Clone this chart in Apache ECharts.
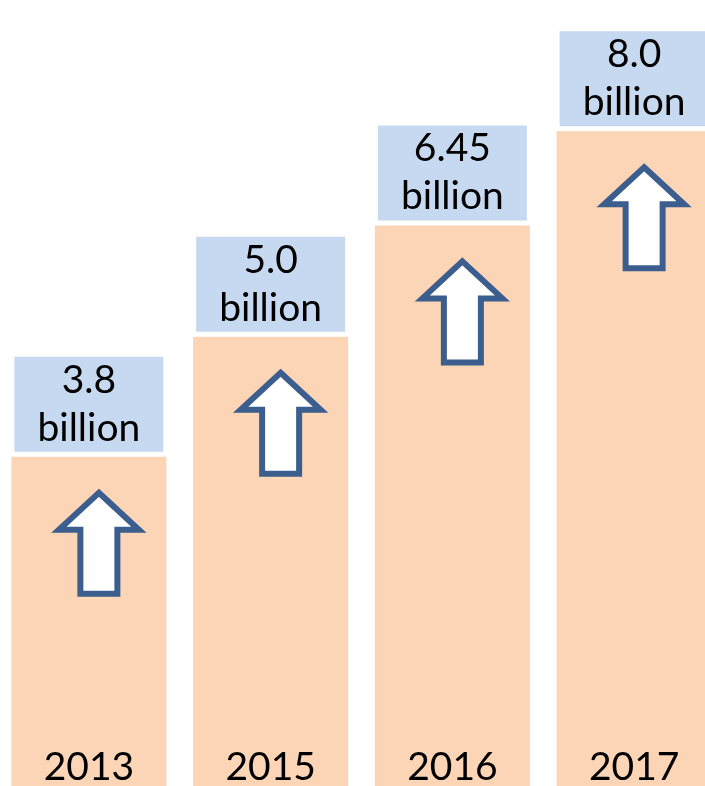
<!DOCTYPE html>
<html>
<head>
<meta charset="utf-8">
<script src="https://cdn.jsdelivr.net/npm/echarts@6/dist/echarts.min.js"></script>
<style>
  html, body { margin: 0; padding: 0; background: #ffffff; }
  #chart { width: 705px; height: 786px; }
</style>
</head>
<body>
<div id="chart"></div>
<script>
// Yearly totals (billions) shown as rising columns
const years = ['2013', '2015', '2016', '2017'];
const totals = [3.8, 5.0, 6.45, 8.0];
const unitText = 'billion';

// Value axis range (log scale)
const yMin = 1.79;
const yMax = 10.8;

const BAR_COLOR = '#FBD5B5';
const BOX_COLOR = '#C6D9F0';
const ARROW_COLOR = '#3B5E8E';
const FONT = 'Lato, "Open Sans", sans-serif';

function formatValue(v) {
  return Math.abs(v * 10 - Math.round(v * 10)) < 1e-9 ? v.toFixed(1) : String(v);
}

function renderItem(params, api) {
  const idx = api.value(0);
  const val = api.value(1);
  const topPt = api.coord([idx, val]);
  const basePt = api.coord([idx, yMin]);
  const band = api.size([1, 1])[0];
  const barW = band * 0.853;
  const cx = topPt[0];
  const barTop = topPt[1];
  const barBottom = basePt[1];

  // label box above the column
  const boxW = barW - 6;
  const boxH = 95;
  const boxBottom = barTop - 5;

  // outlined up-arrow inside the column
  const ax = cx + 10;
  const tipY = barTop + 36;
  const headHalf = 40, shaftHalf = 18.5, headH = 37, totalH = 101;
  const arrowPts = [
    [ax, tipY],
    [ax + headHalf, tipY + headH],
    [ax + shaftHalf, tipY + headH],
    [ax + shaftHalf, tipY + totalH],
    [ax - shaftHalf, tipY + totalH],
    [ax - shaftHalf, tipY + headH],
    [ax - headHalf, tipY + headH]
  ];

  return {
    type: 'group',
    children: [
      {
        type: 'rect',
        shape: { x: cx - barW / 2, y: barTop, width: barW, height: barBottom - barTop },
        style: { fill: BAR_COLOR }
      },
      {
        type: 'rect',
        shape: { x: cx - boxW / 2, y: boxBottom - boxH, width: boxW, height: boxH },
        style: { fill: BOX_COLOR }
      },
      {
        type: 'text',
        x: cx,
        y: boxBottom - boxH / 2,
        style: {
          text: formatValue(val) + '\n' + unitText,
          fill: '#000000',
          font: '39px ' + FONT,
          lineHeight: 48,
          align: 'center',
          verticalAlign: 'middle'
        }
      },
      {
        type: 'polygon',
        shape: { points: arrowPts },
        style: { fill: '#ffffff', stroke: ARROW_COLOR, lineWidth: 6, lineJoin: 'miter' }
      },
      {
        type: 'text',
        x: cx,
        y: barBottom + 1,
        style: {
          text: years[idx],
          fill: '#000000',
          font: '39px ' + FONT,
          align: 'center',
          verticalAlign: 'bottom'
        }
      }
    ]
  };
}

const chart = echarts.init(document.getElementById('chart'), null, { renderer: 'canvas' });
chart.setOption({
  animation: false,
  backgroundColor: '#ffffff',
  grid: {
    left: -2, width: 727, top: 0, bottom: 0,
    containLabel: false,
    outerBoundsMode: 'none'
  },
  xAxis: {
    type: 'category',
    data: years,
    show: false
  },
  yAxis: {
    type: 'log',
    logBase: 10,
    min: yMin,
    max: yMax,
    show: false,
    splitLine: { show: false }
  },
  series: [{
    type: 'custom',
    renderItem: renderItem,
    clip: false,
    encode: { x: 0, y: 1 },
    data: totals.map((v, i) => [i, v])
  }]
});
</script>
</body>
</html>
